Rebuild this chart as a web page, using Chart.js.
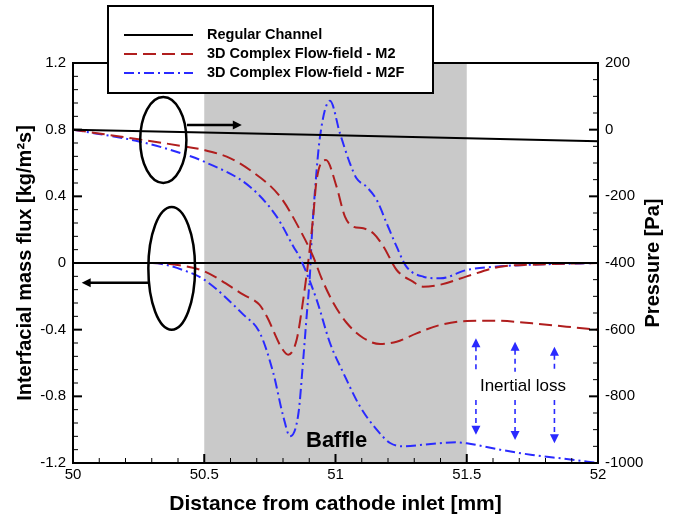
<!DOCTYPE html>
<html>
<head>
<meta charset="utf-8">
<script src="https://cdn.jsdelivr.net/npm/chart.js@4.4.0/dist/chart.umd.min.js"></script>
<style>
  body { margin: 0; background: #fff; }
  #wrap { width: 675px; height: 517px; }
</style>
</head>
<body>
<div id="wrap"><canvas id="chart" width="675" height="517"></canvas></div>
<script>
// distance from cathode inlet [mm] and values
const regularX = [50, 51, 52];
const regularPressure = [0, -17, -35];      // Pa
const regularFlux = [0, 0, 0];              // kg/m2s

const m2PressureX = [50, 50.25, 50.43, 50.5, 50.6, 50.674, 50.789, 50.865, 50.915, 50.947, 50.992, 51.043, 51.106, 51.17, 51.233, 51.309, 51.398, 51.5, 51.6, 51.75, 51.88, 52];
const m2Pressure  = [0, -29, -51, -61, -86, -121, -201, -301, -381, -446, -520, -580, -625, -643, -636, -611, -586, -574, -573, -581, -591, -600];

const m2FluxX = [50, 50.3, 50.43, 50.5, 50.649, 50.71, 50.738, 50.795, 50.82, 50.852, 50.877, 50.897, 50.915, 50.928, 50.964, 51.004, 51.036, 51.068, 51.106, 51.144, 51.183, 51.233, 51.295, 51.333, 51.4, 51.5, 51.627, 51.75, 52];
const m2Flux  = [0, 0, -0.02, -0.05, -0.19, -0.25, -0.32, -0.51, -0.55, -0.46, -0.22, 0.018, 0.278, 0.498, 0.618, 0.458, 0.278, 0.218, 0.208, 0.178, 0.098, -0.042, -0.112, -0.142, -0.13, -0.08, -0.022, -0.01, 0];

const m2fPressureX = [50, 50.255, 50.433, 50.5, 50.674, 50.776, 50.84, 50.865, 50.928, 50.979, 51.03, 51.093, 51.157, 51.208, 51.258, 51.335, 51.46, 51.5, 51.627, 51.75, 51.88, 52];
const m2fPressure  = [0, -36, -76, -96, -171, -261, -351, -385, -510, -640, -730, -830, -900, -940, -950, -945, -938, -941, -960, -976, -988, -1000];

const m2fFluxX = [50, 50.3, 50.433, 50.5, 50.649, 50.712, 50.763, 50.801, 50.827, 50.859, 50.877, 50.89, 50.903, 50.909, 50.922, 50.941, 50.979, 51.017, 51.055, 51.08, 51.118, 51.157, 51.195, 51.233, 51.27, 51.335, 51.4, 51.5, 51.627, 51.75, 52];
const m2fFlux  = [0, 0, -0.05, -0.10, -0.31, -0.42, -0.66, -0.92, -1.04, -0.90, -0.58, -0.32, -0.06, 0.138, 0.438, 0.758, 0.974, 0.778, 0.598, 0.508, 0.458, 0.378, 0.238, 0.098, -0.022, -0.082, -0.092, -0.042, -0.02, -0.01, 0];

const seriesNames = ['Regular Channel', '3D Complex Flow-field - M2', '3D Complex Flow-field - M2F'];
const baffleStart = 50.5;
const baffleEnd = 51.5;

const FONT = "'Liberation Sans', Arial, sans-serif";
const RED = '#b01e1e';
const BLUE = '#2a2aff';

const pts = (xs, ys) => xs.map((x, i) => ({ x: x, y: ys[i] }));

function lineSet(label, xs, ys, color, dash, axis, curved) {
    return {
        label: label,
        data: pts(xs, ys),
        yAxisID: axis,
        borderColor: color,
        borderWidth: 2,
        borderDash: dash,
        pointRadius: 0,
        fill: false,
        tension: 0,
        cubicInterpolationMode: curved ? 'monotone' : 'default'
    };
}

function arrowHead(ctx, x, y, dx, dy, len, half) {
    ctx.beginPath();
    ctx.moveTo(x, y);
    ctx.lineTo(x - dx * len - dy * half, y - dy * len + dx * half);
    ctx.lineTo(x - dx * len + dy * half, y - dy * len - dx * half);
    ctx.closePath();
    ctx.fill();
}

const decor = {
    id: 'decor',
    beforeDatasetsDraw(chart) {
        const { ctx, chartArea: a, scales } = chart;
        const x0 = scales.x.getPixelForValue(baffleStart);
        const x1 = scales.x.getPixelForValue(baffleEnd);
        ctx.save();
        ctx.fillStyle = '#c9c9c9';
        ctx.fillRect(x0, a.top, x1 - x0, a.bottom - a.top);
        ctx.restore();
    },
    afterDatasetsDraw(chart) {
        const { ctx, chartArea: a, scales } = chart;
        const sx = scales.x, sf = scales.yF, sp = scales.yP;
        ctx.save();

        // frame
        ctx.strokeStyle = '#000';
        ctx.lineWidth = 2;
        ctx.strokeRect(a.left, a.top, a.right - a.left, a.bottom - a.top);

        // inward ticks
        const tick = (x1, y1, x2, y2, w) => {
            ctx.lineWidth = w;
            ctx.beginPath(); ctx.moveTo(x1, y1); ctx.lineTo(x2, y2); ctx.stroke();
        };
        for (let i = 0; i <= 30; i++) {
            const v = -1.2 + i * 0.08;
            const y = sf.getPixelForValue(v);
            const major = i % 5 === 0;
            tick(a.left, y, a.left + (major ? 9 : 5), y, major ? 2 : 1);
        }
        for (let i = 0; i <= 24; i++) {
            const v = -1000 + i * 50;
            const y = sp.getPixelForValue(v);
            const major = i % 4 === 0;
            tick(a.right, y, a.right - (major ? 9 : 5), y, major ? 2 : 1);
        }
        for (let i = 0; i <= 20; i++) {
            const v = 50 + i * 0.1;
            const x = sx.getPixelForValue(v);
            const major = i % 5 === 0;
            tick(x, a.bottom, x, a.bottom - (major ? 9 : 5), major ? 2 : 1);
        }

        // right axis title, reading upwards like the left one
        ctx.fillStyle = '#000';
        ctx.font = 'bold 20px ' + FONT;
        ctx.textAlign = 'center';
        ctx.textBaseline = 'middle';
        ctx.save();
        ctx.translate(653, (a.top + a.bottom) / 2);
        ctx.rotate(-Math.PI / 2);
        ctx.fillText('Pressure [Pa]', 0, 0);
        ctx.restore();

        // ellipses and arrows (left: flux, right: pressure)
        ctx.strokeStyle = '#000';
        ctx.fillStyle = '#000';
        ctx.lineWidth = 2.5;
        const ell = (cx, cy, rx, ry) => {
            const px = sx.getPixelForValue(cx), py = sf.getPixelForValue(cy);
            const rpx = sx.getPixelForValue(cx + rx) - px;
            const rpy = py - sf.getPixelForValue(cy + ry);
            ctx.beginPath();
            ctx.ellipse(px, py, rpx, rpy, 0, 0, Math.PI * 2);
            ctx.stroke();
        };
        ell(50.344, 0.738, 0.088, 0.258);
        ell(50.376, -0.032, 0.089, 0.368);

        const arrow = (xa, xb, yv) => {
            const pa = sx.getPixelForValue(xa), pb = sx.getPixelForValue(xb), py = sf.getPixelForValue(yv);
            const dir = pb > pa ? 1 : -1;
            ctx.lineWidth = 2.5;
            ctx.beginPath(); ctx.moveTo(pa, py); ctx.lineTo(pb - dir * 8, py); ctx.stroke();
            arrowHead(ctx, pb, py, dir, 0, 9, 4.5);
        };
        arrow(50.434, 50.643, 0.828);
        arrow(50.29, 50.033, -0.118);

        // Baffle label
        ctx.font = 'bold 22px ' + FONT;
        ctx.fillText('Baffle', sx.getPixelForValue(51.004), sf.getPixelForValue(-1.068));

        // inertial loss arrows
        ctx.font = '17px ' + FONT;
        ctx.fillText('Inertial loss', sx.getPixelForValue(51.714), sf.getPixelForValue(-0.742));
        ctx.strokeStyle = BLUE;
        ctx.fillStyle = BLUE;
        ctx.lineWidth = 1.6;
        ctx.setLineDash([5, 4]);
        const gapTop = sf.getPixelForValue(-0.652), gapBot = sf.getPixelForValue(-0.822);
        [[51.535, -0.452, -1.03], [51.684, -0.472, -1.062], [51.834, -0.502, -1.082]].forEach(([xv, t, b]) => {
            const x = sx.getPixelForValue(xv);
            const yt = sf.getPixelForValue(t), yb = sf.getPixelForValue(b);
            ctx.beginPath();
            ctx.moveTo(x, yt + 8); ctx.lineTo(x, gapTop);
            ctx.moveTo(x, gapBot); ctx.lineTo(x, yb - 8);
            ctx.stroke();
            arrowHead(ctx, x, yt, 0, -1, 9, 4.5);
            arrowHead(ctx, x, yb, 0, 1, 9, 4.5);
        });
        ctx.setLineDash([]);

        // legend box
        const lx = 108, ly = 6, lw = 325, lh = 87;
        ctx.fillStyle = '#fff';
        ctx.fillRect(lx, ly, lw, lh);
        ctx.strokeStyle = '#000';
        ctx.lineWidth = 2;
        ctx.strokeRect(lx, ly, lw, lh);
        ctx.font = 'bold 14.5px ' + FONT;
        ctx.textAlign = 'left';
        [35, 54, 73].forEach((y, i) => {
            const ds = chart.data.datasets[i];
            ctx.strokeStyle = ds.borderColor;
            ctx.lineWidth = 2;
            ctx.setLineDash(ds.borderDash);
            ctx.beginPath(); ctx.moveTo(124, y); ctx.lineTo(193, y); ctx.stroke();
            ctx.setLineDash([]);
            ctx.fillStyle = '#000';
            ctx.fillText(ds.label, 207, y);
        });
        ctx.restore();
    }
};

const near = (v, step) => Math.abs(v / step - Math.round(v / step)) < 1e-6;

new Chart(document.getElementById('chart').getContext('2d'), {
    type: 'line',
    data: {
        datasets: [
            lineSet(seriesNames[0], regularX, regularPressure, '#000', [], 'yP', false),
            lineSet(seriesNames[1], m2PressureX, m2Pressure, RED, [13, 6], 'yP', true),
            lineSet(seriesNames[2], m2fPressureX, m2fPressure, BLUE, [10, 4, 2, 4], 'yP', true),
            lineSet('', regularX, regularFlux, '#000', [], 'yF', false),
            lineSet('', m2FluxX, m2Flux, RED, [13, 6], 'yF', true),
            lineSet('', m2fFluxX, m2fFlux, BLUE, [10, 4, 2, 4], 'yF', true)
        ]
    },
    options: {
        responsive: false,
        animation: false,
        layout: { padding: { top: 63, left: 0, right: 0, bottom: 0 } },
        plugins: { legend: { display: false }, tooltip: { enabled: false } },
        scales: {
            x: {
                type: 'linear', min: 50, max: 52,
                afterFit: (s) => { s.height = 54; },
                grid: { display: false, drawTicks: false },
                border: { display: false },
                ticks: {
                    stepSize: 0.5, autoSkip: false, maxRotation: 0, padding: 3,
                    color: '#000', font: { family: FONT, size: 15 },
                    callback: (v) => near(v, 0.5) ? String(Number(v.toFixed(1))) : ''
                },
                title: {
                    display: true, text: 'Distance from cathode inlet [mm]', color: '#000',
                    font: { family: FONT, size: 21, weight: 'bold' }, padding: 0
                }
            },
            yF: {
                position: 'left', min: -1.2, max: 1.2,
                afterFit: (s) => { s.width = 73; },
                grid: { display: false, drawTicks: false },
                border: { display: false },
                ticks: {
                    stepSize: 0.4, autoSkip: false, padding: 7,
                    color: '#000', font: { family: FONT, size: 15 },
                    callback: (v) => String(Number(v.toFixed(1)))
                },
                title: {
                    display: true, text: 'Interfacial mass flux [kg/m²s]', color: '#000',
                    font: { family: FONT, size: 20, weight: 'bold' }, padding: 13
                }
            },
            yP: {
                position: 'right', min: -1000, max: 200,
                afterFit: (s) => { s.width = 77; },
                grid: { display: false, drawTicks: false },
                border: { display: false },
                ticks: {
                    stepSize: 200, autoSkip: false, padding: 7,
                    color: '#000', font: { family: FONT, size: 15 },
                    callback: (v) => String(Math.round(v))
                },
                title: { display: false }
            }
        }
    },
    plugins: [decor]
});
</script>
</body>
</html>
